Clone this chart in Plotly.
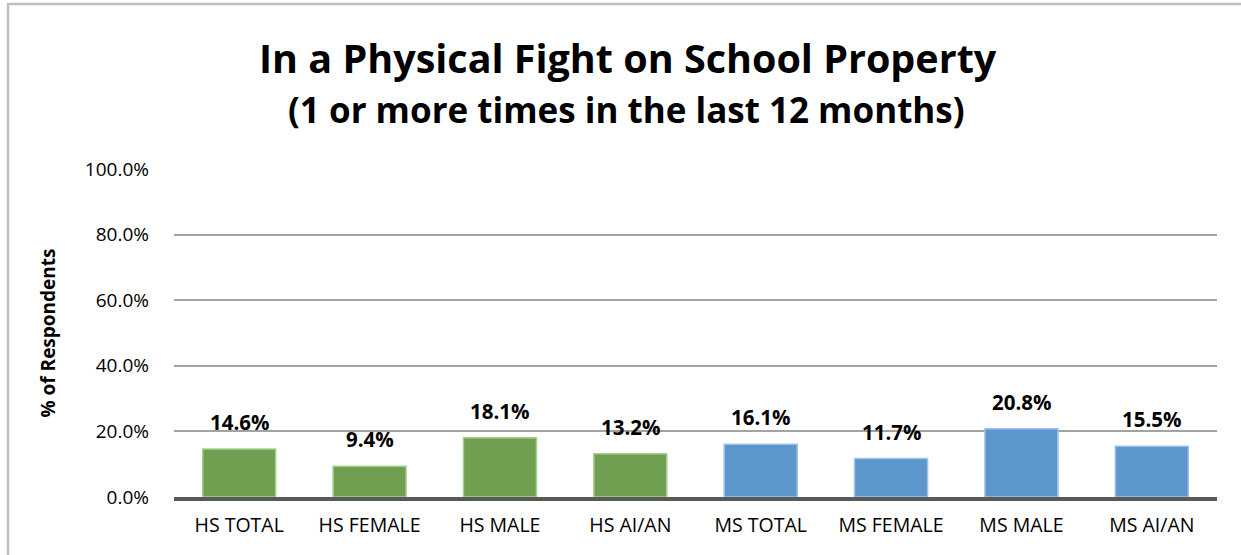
import plotly.graph_objects as go

categories = ["HS TOTAL", "HS FEMALE", "HS MALE", "HS AI/AN",
              "MS TOTAL", "MS FEMALE", "MS MALE", "MS AI/AN"]
values = [0.146, 0.094, 0.181, 0.132, 0.161, 0.117, 0.208, 0.155]
groups = ["HS", "HS", "HS", "HS", "MS", "MS", "MS", "MS"]
y_ticks = [0, 0.2, 0.4, 0.6, 0.8, 1.0]

title_line1 = "In a Physical Fight on School Property"
title_line2 = "(1 or more times in the last 12 months)"
y_title = "% of Respondents"

fill_colors = {"HS": "#709f52", "MS": "#5c96cd"}
edge_colors = {"HS": "#a9d18e", "MS": "#9dc3e6"}

FONT = "Open Sans"

W, H = 1241, 555
L, R, T, B = 174, 24, 169, 58
pw, ph = W - L - R, H - T - B

def px_x(px):
    return (px - L) / pw

def px_y(py):
    return (H - B - py) / ph

fig = go.Figure()
fig.add_trace(go.Bar(
    x=categories,
    y=values,
    marker=dict(color=[fill_colors[g] for g in groups],
                line=dict(color=[edge_colors[g] for g in groups], width=1.5)),
    hoverinfo="skip",
))

for c, v in zip(categories, values):
    fig.add_annotation(x=c, y=v, xref="x", yref="y", text=f"{v*100:.1f}%",
                       showarrow=False, yanchor="bottom", yshift=11,
                       font=dict(family=FONT, size=20.5, color="#000000", weight="bold"))

fig.add_annotation(x=px_x(628), y=px_y(58), xref="paper", yref="paper",
                   text=f"<b>{title_line1}</b>", showarrow=False,
                   xanchor="center", yanchor="middle",
                   font=dict(family=FONT, size=39.5, color="#000000"))
fig.add_annotation(x=px_x(626), y=px_y(110), xref="paper", yref="paper",
                   text=f"<b>{title_line2}</b>", showarrow=False,
                   xanchor="center", yanchor="middle",
                   font=dict(family=FONT, size=35, color="#000000"))

fig.add_shape(type="rect", xref="paper", yref="paper",
              x0=px_x(8), x1=px_x(1260), y0=px_y(570), y1=px_y(4),
              line=dict(color="#bfbfbf", width=2.5), fillcolor="rgba(0,0,0,0)",
              layer="below")

fig.update_layout(
    width=W, height=H,
    margin=dict(l=L, r=R, t=T, b=B),
    paper_bgcolor="#ffffff",
    plot_bgcolor="#ffffff",
    bargap=0.44,
    showlegend=False,
    font=dict(family=FONT, color="#000000"),
)
fig.update_xaxes(
    showgrid=False, showline=True, linecolor="#595959", linewidth=3.5,
    tickfont=dict(family=FONT, size=19.5, color="#000000"),
    ticks="", ticklabelstandoff=8,
)
fig.update_yaxes(
    range=[0, 1], tickvals=y_ticks, tickformat=".1%",
    showgrid=True, gridcolor="#a3a3a3", gridwidth=1.8,
    zeroline=False, showline=False, ticks="",
    tickfont=dict(family=FONT, size=19, color="#000000"),
    ticklabelstandoff=24,
    title=dict(text=f"<b>{y_title}</b>", standoff=24,
               font=dict(family=FONT, size=19, color="#000000")),
)

fig.write_html("out.html", config={"displayModeBar": False},
               post_script="document.body.style.margin='0';")
